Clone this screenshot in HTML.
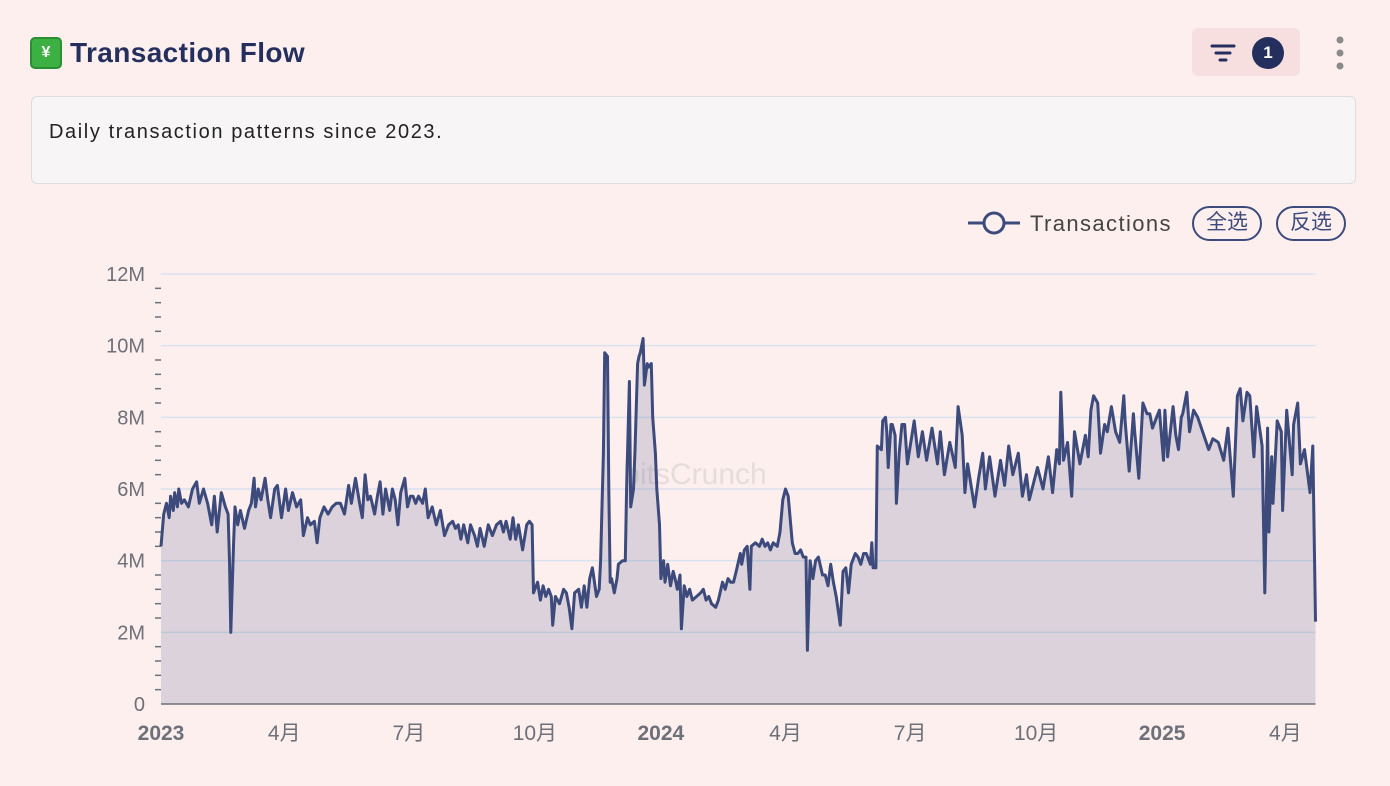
<!DOCTYPE html>
<html><head><meta charset="utf-8">
<style>
*{margin:0;padding:0;box-sizing:border-box}
body{width:1390px;height:786px;background:#fcefee;font-family:"Liberation Sans","Noto Sans CJK SC",sans-serif;position:relative;overflow:hidden}
.title{position:absolute;left:30px;top:37px;display:flex;align-items:center;gap:8px}
.emoji{width:32px;height:32px;background:#3cb043;border-radius:5px;color:#fff;font-size:16px;font-weight:bold;display:flex;align-items:center;justify-content:center;border:2px solid #2a8f33}
.title h1{font-size:28px;font-weight:bold;color:#252f5e;letter-spacing:0.4px}
.filter{position:absolute;left:1192px;top:28px;width:108px;height:48px;background:#f7dfe0;border-radius:6px}
.badge{position:absolute;left:60px;top:9px;width:32px;height:32px;border-radius:50%;background:#252f5e;color:#fff;font-size:17px;font-weight:bold;text-align:center;line-height:32px}
.desc{position:absolute;left:31px;top:96px;width:1325px;height:88px;background:#f7f5f5;border:1.5px solid #dedcdc;border-radius:6px;padding:24px 17px;font-size:20px;color:#222;letter-spacing:1.6px}
.pill{position:absolute;top:206px;height:35px;width:70px;border:2px solid #3d4a7c;border-radius:18px;font-size:21px;color:#3d4a7c;text-align:center;line-height:30px}
</style></head><body>
<div class="title"><div class="emoji">¥</div><h1>Transaction Flow</h1></div>
<div class="filter">
<svg width="30" height="30" style="position:absolute;left:16px;top:10px"><path d="M4 8h22M8 15h14M12 22h6" stroke="#252f5e" stroke-width="3" stroke-linecap="round"/></svg>
<div class="badge">1</div></div>
<svg width="12" height="36" style="position:absolute;left:1334px;top:35px"><circle cx="6" cy="5" r="3.5" fill="#8a8a8a"/><circle cx="6" cy="18" r="3.5" fill="#8a8a8a"/><circle cx="6" cy="31" r="3.5" fill="#8a8a8a"/></svg>
<div class="desc">Daily transaction patterns since 2023.</div>
<svg width="52" height="30" style="position:absolute;left:968px;top:208px"><line x1="0" y1="15" x2="52" y2="15" stroke="#3d4a7c" stroke-width="3"/><circle cx="26" cy="15" r="10" fill="#fcefee" stroke="#3d4a7c" stroke-width="3"/></svg>
<div style="position:absolute;left:1030px;top:211px;font-size:22px;color:#444;letter-spacing:1.4px">Transactions</div>
<div class="pill" style="left:1192px">全选</div>
<div class="pill" style="left:1276px">反选</div>
<svg id="chart" width="1390" height="786" style="position:absolute;left:0;top:0"></svg>
<script>
const days=[0,2,4,6,7,9,10,12,13,15,17,20,23,26,28,31,34,37,39,41,44,47,49,50,51,53,54,56,58,61,64,66,68,69,71,73,76,78,80,83,85,88,91,93,96,99,102,104,107,109,112,114,116,119,122,125,128,131,134,137,139,142,145,147,149,151,153,156,158,160,162,164,167,169,171,173,175,178,180,182,184,186,188,191,193,195,198,201,204,207,210,213,215,217,219,221,224,226,229,231,233,236,239,242,245,248,250,252,255,257,259,261,264,267,269,271,
272,275,277,279,281,283,285,286,288,291,294,296,298,300,302,305,307,309,311,313,315,318,320,321,323,324,326,327,328,329,331,333,334,337,339,340,342,343,345,346,348,349,350,352,353,355,356,358,359,361,362,364,365,367,368,370,372,374,376,377,379,380,382,384,386,388,391,394,396,398,400,402,405,407,410,412,414,416,418,420,423,424,426,428,430,431,434,437,439,441,443,445,447,450,452,454,456,458,461,463,465,467,469,471,472,474,476,478,480,483,485,487,489,491,493,496,498,500,502,504,507,509,511,513,515,518,519,520,522,523,526,527,529,530,531,533,534,536,537,539,541,
543,545,550,553,556,559,563,567,569,572,576,580,582,585,587,589,594,597,600,602,605,609,613,616,619,622,626,629,632,634,640,644,648,651,654,656,657,659,662,665,667,671,675,677,679,681,684,686,689,691,694,697,700,703,704,707,710,711,714,717,720,722,724,727,729,732,733,735,739,741,743,745,746,749,751,754,757,765,768,772,776,779,783,786,788,790,793,795,798,800,804,806,808,809,811,812,815,818,819,822,826,827,830,832,835,839,841,843];
const values=[4.4,5.3,5.6,5.2,5.8,5.4,5.9,5.5,6.0,5.6,5.7,5.5,6.0,6.2,5.6,6.0,5.6,5.0,5.8,4.8,5.9,5.5,5.3,4.0,2.0,4.5,5.5,5.0,5.4,4.9,5.4,5.6,6.3,5.5,6.0,5.7,6.3,5.7,5.2,6.0,6.1,5.2,6.0,5.4,5.9,5.5,5.7,4.7,5.2,5.0,5.1,4.5,5.2,5.5,5.3,5.5,5.6,5.6,5.3,6.1,5.6,6.3,5.6,5.2,6.4,5.7,5.8,5.3,5.8,6.2,5.3,6.0,5.4,6.0,5.7,5.0,5.9,6.3,5.5,5.8,5.8,5.6,5.8,5.6,6.0,5.2,5.5,5.0,5.4,4.7,5.0,5.1,4.9,5.0,4.6,5.0,4.5,5.0,4.7,4.4,4.9,4.4,5.0,4.7,5.0,5.1,4.8,5.1,4.6,5.2,4.6,5.0,4.3,5.0,5.1,5.0,
3.1,3.4,2.9,3.3,3.0,3.2,3.0,2.2,3.0,2.8,3.2,3.1,2.7,2.1,3.1,3.2,2.7,3.3,2.7,3.5,3.8,3.0,3.2,4.0,7.0,9.8,9.7,6.0,3.4,3.5,3.1,3.5,3.9,4.0,4.0,6.0,9.0,5.5,6.0,7.0,9.5,9.7,9.8,10.2,8.9,9.5,9.4,9.5,8.0,7.0,6.0,5.0,3.5,4.0,3.4,3.9,3.3,3.7,3.4,3.2,3.6,2.1,3.3,3.0,3.2,2.9,3.0,3.1,3.2,2.9,3.0,2.8,2.7,2.9,3.4,3.2,3.5,3.4,3.4,3.7,4.2,3.9,4.3,4.4,3.2,4.4,4.5,4.4,4.6,4.4,4.5,4.3,4.5,4.4,4.8,5.7,6.0,5.8,4.5,4.2,4.2,4.3,4.1,4.1,1.5,4.0,3.5,4.0,4.1,3.6,3.6,3.3,3.9,3.4,3.0,2.2,3.7,3.8,3.1,3.9,4.2,4.1,3.9,4.2,4.2,3.9,4.5,3.8,3.8,7.2,7.1,7.9,8.0,7.6,6.6,7.8,7.8,7.5,5.6,7.0,7.8,
7.8,6.7,7.9,6.9,7.6,6.8,7.7,6.7,7.6,6.4,7.3,6.6,8.3,7.5,5.9,6.7,5.5,6.3,7.0,6.0,6.9,5.8,6.8,6.1,7.2,6.4,7.0,5.8,6.4,5.7,6.6,6.0,6.9,5.9,7.1,6.7,8.7,6.8,7.3,5.8,7.6,6.7,7.5,6.9,8.2,8.6,8.4,7.0,7.8,7.6,8.3,7.6,7.3,8.6,7.9,6.5,8.1,7.6,6.3,8.4,8.1,8.1,7.7,8.0,8.2,6.8,8.2,6.9,8.3,7.5,7.1,8.0,8.1,8.7,7.6,8.2,8.0,7.1,7.4,7.3,6.8,7.7,5.8,8.6,8.8,7.9,8.7,8.6,6.9,8.3,7.2,3.1,7.7,4.8,6.9,5.6,7.9,7.6,5.4,8.2,6.4,7.8,8.4,6.7,7.1,5.9,7.2,2.3];
const yTicks=[0,2,4,6,8,10,12];
const yTickLabels=["0","2M","4M","6M","8M","10M","12M"];
const xTickDays=[0,90,181,273,365,456,547,639,731,821];
const xTickLabels=["2023","4月","7月","10月","2024","4月","7月","10月","2025","4月"];
const xTickBold=[true,false,false,false,true,false,false,false,true,false];
const NS="http://www.w3.org/2000/svg";
const svg=document.getElementById('chart');
const X0=161,X1=1315.5,Y0=704,Y1=274,DMAX=843,VMAX=12;
const xs=d=>X0+d/DMAX*(X1-X0);
const ys=v=>Y0-v/VMAX*(Y0-Y1);
function mk(t,a){const e=document.createElementNS(NS,t);for(const k in a)e.setAttribute(k,a[k]);svg.appendChild(e);return e;}
yTicks.forEach((v,i)=>{
  if(v>0){const g=mk('line',{x1:X0,x2:X1,y1:ys(v),y2:ys(v),stroke:'#d9e2ef','stroke-width':1.5});
  
  }
  const t=mk('text',{x:145,y:ys(v)+7,'text-anchor':'end','font-size':20,fill:'#6e7079','font-family':'Liberation Sans, sans-serif'});
  t.textContent=yTickLabels[i];
  
  
});
for(let v=0.4;v<12;v+=0.4){if(Math.abs(v/2-Math.round(v/2))<0.01)continue;
  const m=mk('line',{x1:155,x2:161,y1:ys(v),y2:ys(v),stroke:'#6e7079','stroke-width':1.5});
  
  }
const wm=mk('text',{x:695,y:484,'text-anchor':'middle','font-size':30,fill:'#e6dcdc','font-family':'Liberation Sans, sans-serif'});
wm.textContent='bitsCrunch';


let d='M'+xs(days[0])+','+ys(values[0]);
for(let i=1;i<days.length;i++)d+='L'+xs(days[i]).toFixed(1)+','+ys(values[i]).toFixed(1);
const area=mk('path',{d:d+'L'+xs(days[days.length-1])+','+Y0+'L'+xs(days[0])+','+Y0+'Z',fill:'rgba(61,74,124,0.17)'});


const line=mk('path',{d:d,fill:'none',stroke:'#3d4a7c','stroke-width':3,'stroke-linejoin':'round'});


const ax=mk('line',{x1:X0,x2:X1,y1:Y0,y2:Y0,stroke:'#6e7079','stroke-width':1.5});


xTickDays.forEach((dd,i)=>{
  const t=mk('text',{x:xs(dd),y:740,'text-anchor':'middle','font-size':21,fill:'#6e7079','font-weight':xTickBold[i]?'bold':'normal','font-family':'Liberation Sans, Noto Sans CJK SC, sans-serif'});
  t.textContent=xTickLabels[i];
  
  
});
</script>
</body></html>
